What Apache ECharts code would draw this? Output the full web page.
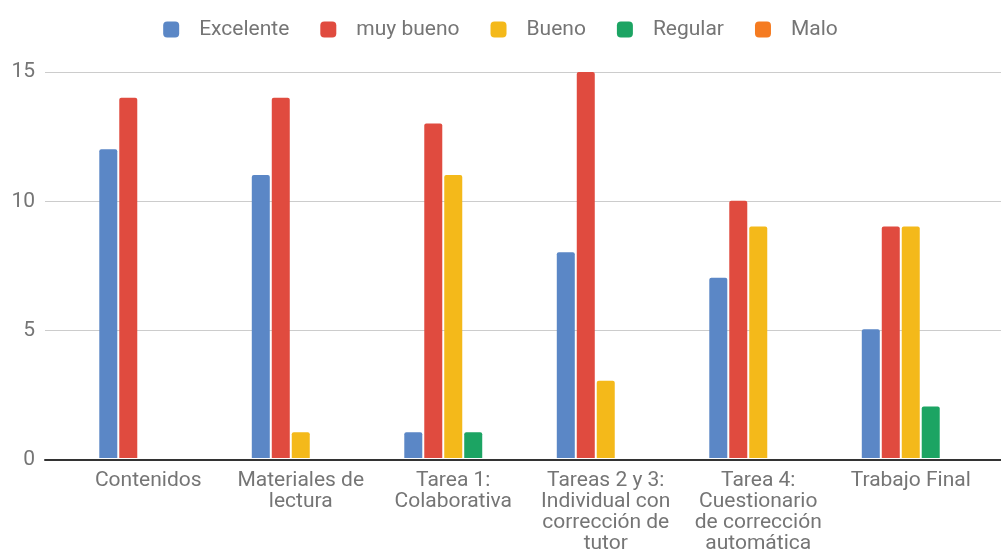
<!DOCTYPE html>
<html>
<head>
<meta charset="utf-8">
<script src="https://cdn.jsdelivr.net/npm/echarts@6/dist/echarts.min.js"></script>
<style>
html,body{margin:0;padding:0;background:#fff;}
#c{width:1001px;height:554px;}
</style>
</head>
<body>
<div id="c"></div>
<script>
const categories = ["Contenidos", "Materiales de\nlectura", "Tarea 1:\nColaborativa", "Tareas 2 y 3:\nIndividual con\ncorrección de\ntutor", "Tarea 4:\nCuestionario\nde corrección\nautomática", "Trabajo Final"];
const seriesNames = ["Excelente", "muy bueno", "Bueno", "Regular", "Malo"];
const excelente = [12, 11, 1, 8, 7, 5];
const muyBueno = [14, 14, 13, 15, 10, 9];
const bueno = [0, 1, 11, 3, 9, 9];
const regular = [0, 0, 1, 0, 0, 2];
const malo = [0, 0, 0, 0, 0, 0];
const yTicks = [0, 5, 10, 15];

const colors = ["#5b87c6", "#e04b3f", "#f4b91a", "#1ca463", "#f57b21"];
const values = [excelente, muyBueno, bueno, regular, malo];
const font = "Roboto";
const textColor = "#757575";

const chart = echarts.init(document.getElementById('c'), null, {renderer: 'canvas'});
chart.setOption({
  animation: false,
  color: colors,
  textStyle: {fontFamily: font},
  legend: {
    top: 14,
    left: 'center',
    itemWidth: 16,
    itemHeight: 16,
    itemGap: 31,
    icon: 'roundRect',
    textStyle: {fontSize: 21, color: textColor, fontFamily: font, padding: [0, 0, 0, 15]},
    data: seriesNames
  },
  grid: [
    {left: 45, right: 0, top: 72, bottom: 94},
    {left: 72, right: 14, top: 72, bottom: 94}
  ],
  xAxis: [
    {gridIndex: 0, type: 'value', min: 0, max: 1, show: true,
     axisLine: {show: true, onZero: false, lineStyle: {color: '#333', width: 2}},
     axisTick: {show: false}, axisLabel: {show: false}, splitLine: {show: false}},
    {gridIndex: 1, type: 'category', data: categories,
     axisLine: {show: false}, axisTick: {show: false},
     axisLabel: {fontSize: 21, color: textColor, fontFamily: font, lineHeight: 21, margin: 12, interval: 0}}
  ],
  yAxis: [
    {gridIndex: 0, type: 'value', min: yTicks[0], max: yTicks[yTicks.length-1], interval: 5,
     axisLine: {show: false}, axisTick: {show: false},
     axisLabel: {fontSize: 21, color: textColor, fontFamily: font, margin: 10},
     splitLine: {lineStyle: {color: '#cccccc', width: 1}}},
    {gridIndex: 1, type: 'value', min: yTicks[0], max: yTicks[yTicks.length-1], show: false}
  ],
  series: seriesNames.map((n, i) => ({
    name: n,
    type: 'bar',
    xAxisIndex: 1,
    yAxisIndex: 1,
    data: values[i],
    barWidth: 18,
    barGap: '11%',
    itemStyle: {borderRadius: [2, 2, 0, 0]}
  }))
});
</script>
</body>
</html>
